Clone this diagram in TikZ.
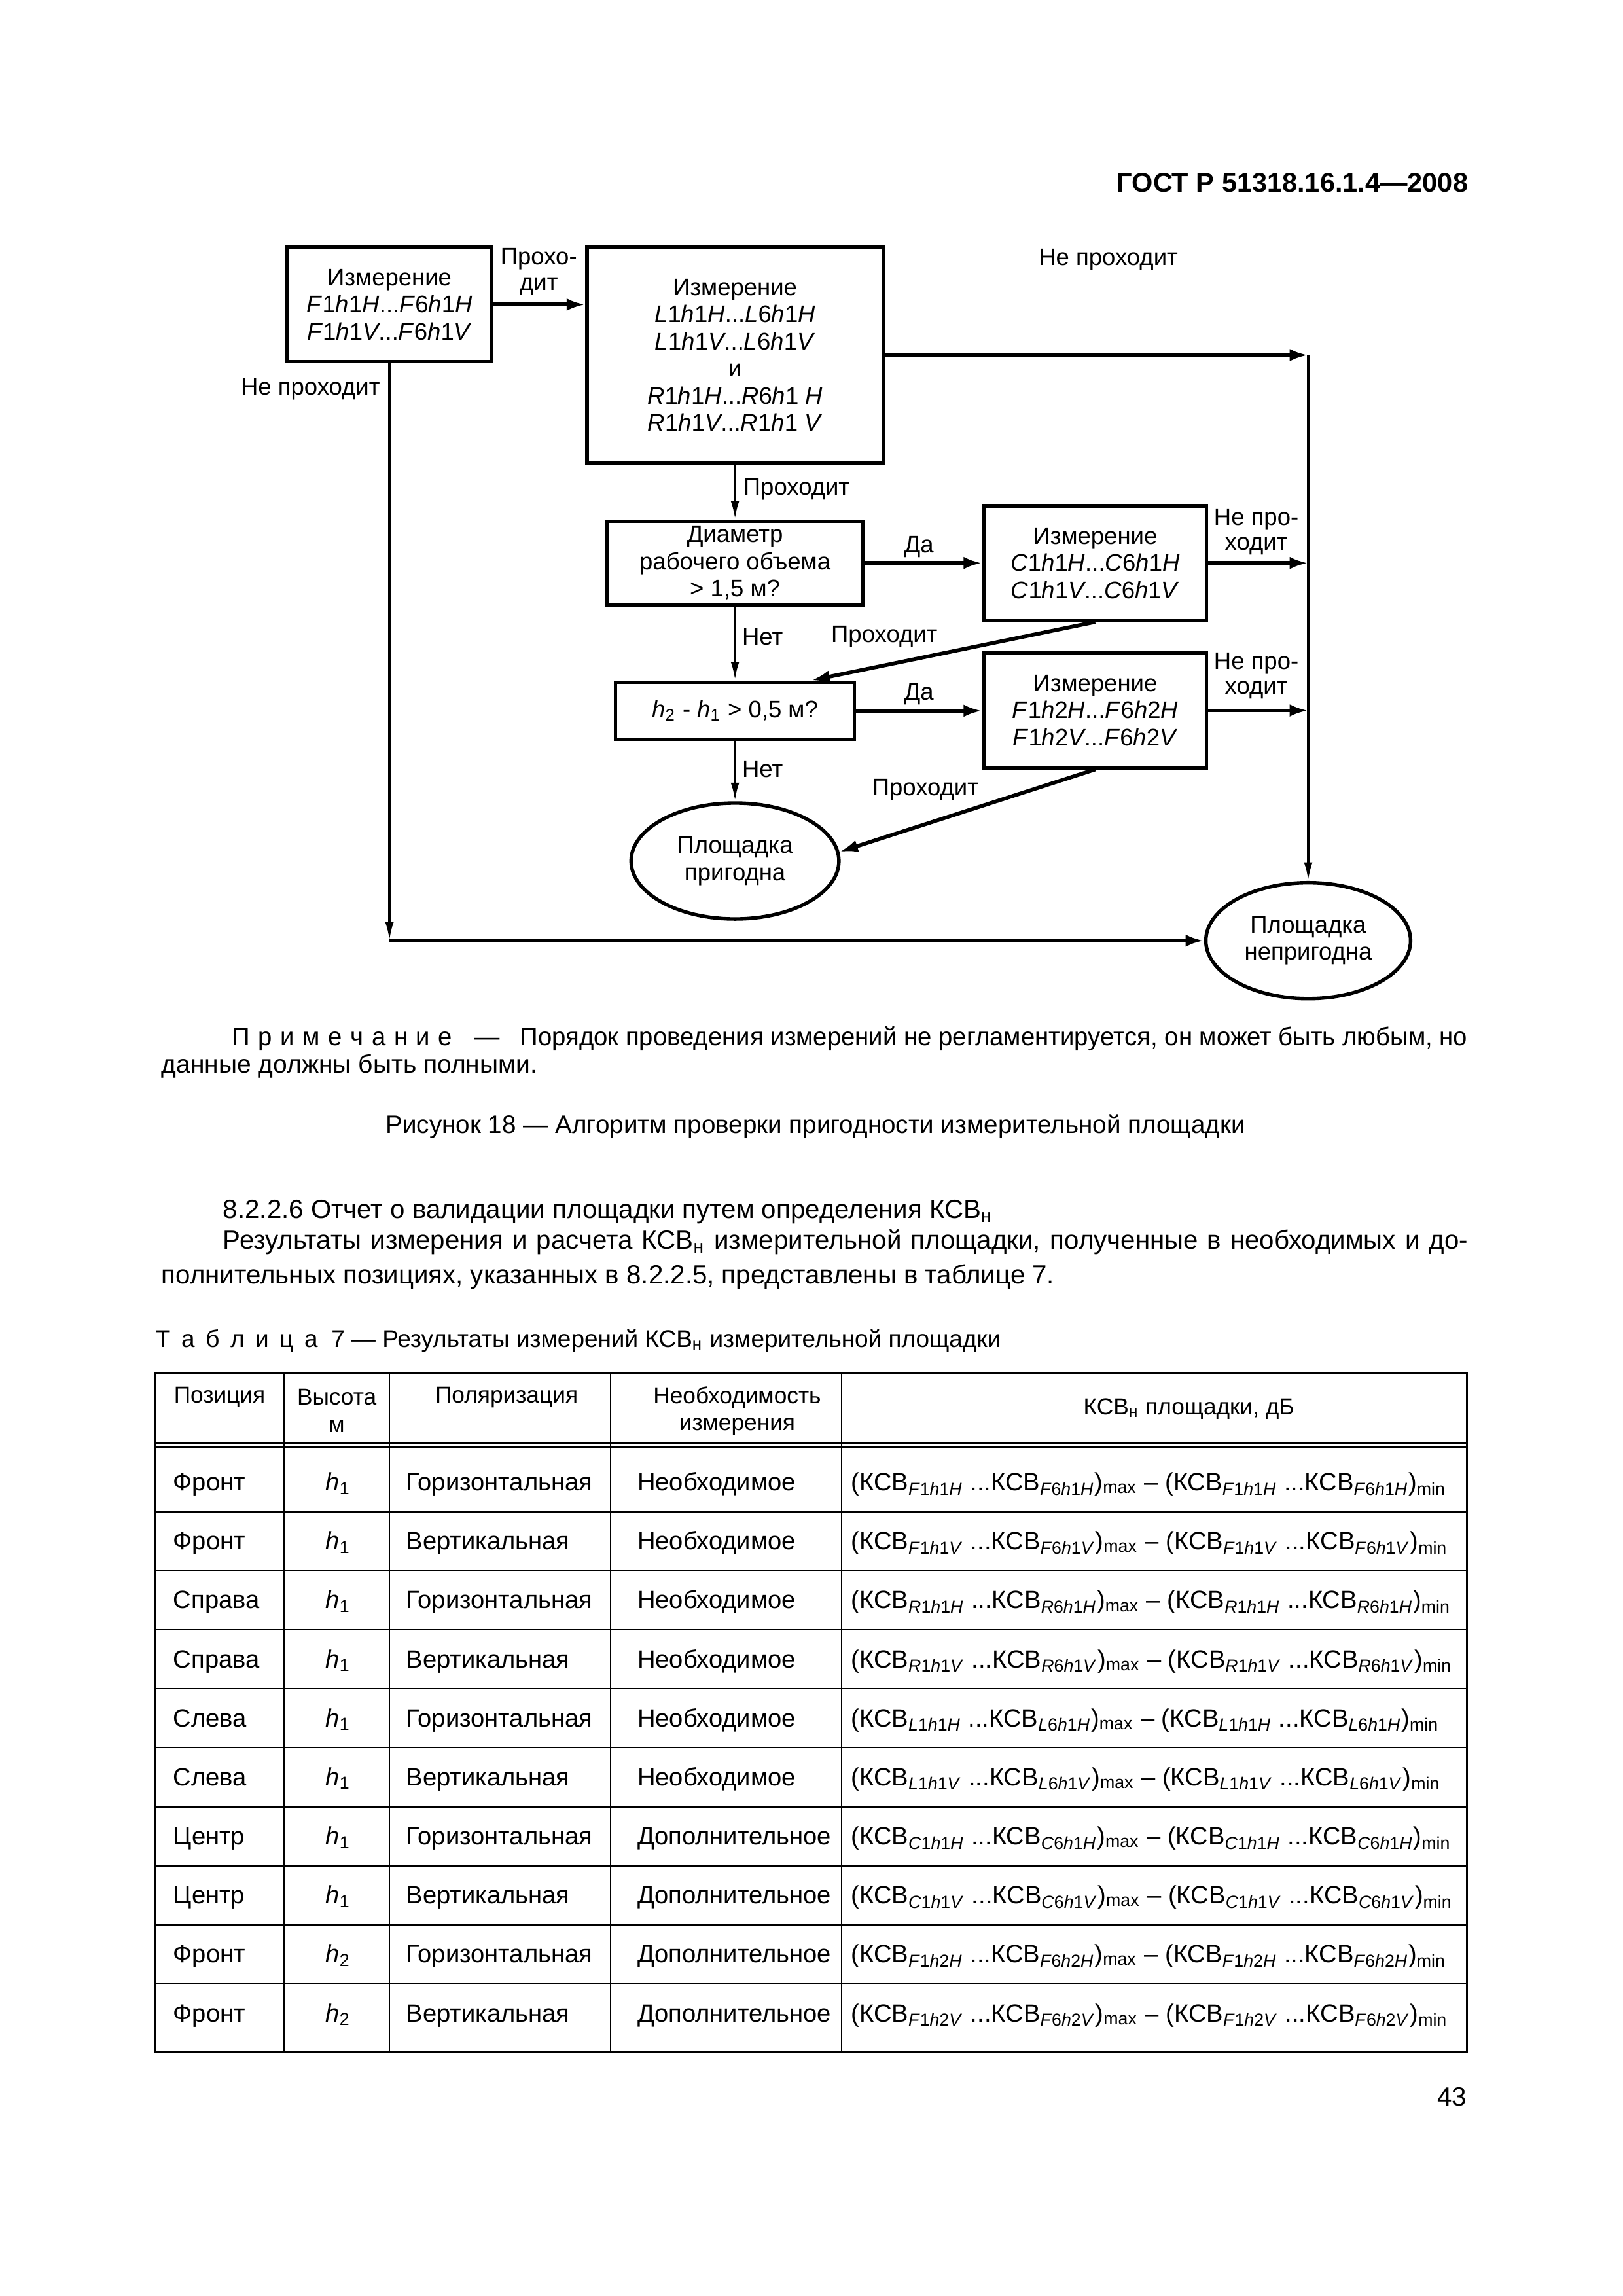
\documentclass[tikz,border=0pt]{standalone}
\usepackage{fontspec}
\setmainfont{Liberation Sans}
\usepackage{tikz}
\usetikzlibrary{shapes.geometric, arrows.meta, positioning, calc}

\newcommand{\flowfont}{\fontsize{8.8}{10}\selectfont}
\newcommand{\tabfont}{\fontsize{9.2}{11}\selectfont}
\newcommand{\thfont}{\fontsize{8.5}{10}\selectfont}
\newcommand{\txtfont}{\fontsize{9.4}{11}\selectfont}
\newcommand{\parfont}{\fontsize{9.7}{12}\selectfont}
\newcommand{\ls}{\kern.33em}
\newcommand{\lsw}{\kern.45em}
\newcommand{\msr}[4]{\textit{#1}#2\textit{h}#3\textit{#4}}
\newcommand{\ksv}[1]{КСВ\textsubscript{#1}}
\newcommand{\krow}[3]{(\ksv{\msr{#1}{1}{#2}{#3}} ...\ksv{\msr{#1}{6}{#2}{#3}})\textsubscript{max} – (\ksv{\msr{#1}{1}{#2}{#3}} ...\ksv{\msr{#1}{6}{#2}{#3}})\textsubscript{min}}

\begin{document}
\begin{tikzpicture}[x=0.1895mm, y=-0.1895mm,
  box/.style={draw, line width=1.3pt, align=center, inner sep=0pt, font=\flowfont},
  oval/.style={ellipse, draw, line width=1.3pt, align=center, inner sep=0pt, font=\flowfont},
  lbl/.style={align=center, inner sep=0pt, font=\fontsize{8.8}{9.3}\selectfont},
  thk/.style={line width=1.4pt, -{Latex[length=2.4mm, width=1.6mm]}},
  thn/.style={line width=0.9pt, -{Latex[length=2.4mm, width=1.1mm]}},
  txt/.style={inner sep=0pt, font=\txtfont},
  tcell/.style={inner sep=0pt, font=\tabfont},
  thd/.style={inner sep=0pt, align=center, font=\thfont},
  tline/.style={line width=0.6pt},
]
% Page
\fill[white] (0,0) rectangle (1108.2,1568);
\useasboundingbox (0,0) rectangle (1108.2,1568);

% Running head and page number
\node[anchor=base east, inner sep=0pt, font=\fontsize{10}{12}\selectfont\bfseries] (gost) at (1003,131) {ГОСТ Р 51318.16.1.4—2008};
\node[anchor=base east, inner sep=0pt, font=\parfont] (pnum) at (1002,1438) {43};

% Measurement boxes
\node[box, minimum width=26.5mm, minimum height=14.8mm] (mF) at (266,208)
  {Измерение\\\msr{F}{1}{1}{H}...\msr{F}{6}{1}{H}\\\msr{F}{1}{1}{V}...\msr{F}{6}{1}{V}};
\node[box, minimum width=38.3mm, minimum height=27.9mm] (mLR) at (502,242.5)
  {Измерение\\\msr{L}{1}{1}{H}...\msr{L}{6}{1}{H}\\\msr{L}{1}{1}{V}...\msr{L}{6}{1}{V}\\и\\
   \msr{R}{1}{1}{H}...\textit{R}6\textit{h}1 \textit{H}\\\msr{R}{1}{1}{V}...\textit{R}1\textit{h}1 \textit{V}};
\node[box, minimum width=33.2mm, minimum height=10.8mm] (dm) at (502,384.5)
  {Диаметр\\рабочего объема\\> 1,5 м?};
\node[box, minimum width=28.8mm, minimum height=14.8mm] (cb) at (748,384.5)
  {Измерение\\\msr{C}{1}{1}{H}...\msr{C}{6}{1}{H}\\\msr{C}{1}{1}{V}...\msr{C}{6}{1}{V}};
\node[box, minimum width=30.9mm, minimum height=7.4mm] (hb) at (502,485.4)
  {\textit{h}\textsubscript{2} - \textit{h}\textsubscript{1} > 0,5 м?};
\node[box, minimum width=28.8mm, minimum height=14.8mm] (fb) at (748,485.2)
  {Измерение\\\msr{F}{1}{2}{H}...\msr{F}{6}{2}{H}\\\msr{F}{1}{2}{V}...\msr{F}{6}{2}{V}};

% Results
\node[oval, minimum width=26.9mm, minimum height=15mm] (pg) at (502,588) {Площадка\\пригодна};
\node[oval, minimum width=26.5mm, minimum height=15mm] (ng) at (893.5,642.4) {Площадка\\непригодна};

\coordinate (bus) at (mLR.east -| ng.north);
\coordinate (lft) at (mF.south |- ng.west);

% Connectors
\draw[thk] (mF.east) -- (mF.east -| mLR.west);
\draw[thk] (mLR.east) -- (bus);
\draw[thn] (bus) -- (ng.north);
\draw[thn] (mF.south) -- (lft);
\draw[thk] (lft) -- (ng.west);
\draw[thn] (mLR.south) -- (dm.north);
\draw[thk] (dm.east) -- (dm.east -| cb.west);
\draw[thk] (cb.east) -- (cb.east -| bus);
\draw[thk] (cb.south) -- ($(hb.north)!0.63!(hb.north east)$);
\draw[thn] (dm.south) -- (hb.north);
\draw[thk] (hb.east) -- (hb.east -| fb.west);
\draw[thk] (fb.east) -- (fb.east -| bus);
\draw[thk] (fb.south) -- (pg.5);
\draw[thn] (hb.south) -- (pg.north);

% Connector labels
\node[lbl] (lpF) at (368,185.5) {Прохо-\\дит};
\node[lbl] (lnLR) at (757,177.3) {Не проходит};
\node[lbl] (lnF) at (212,266) {Не проходит};
\node[lbl] (lpLR) at (544,334) {Проходит};
\node[lbl] (ldm) at (627.6,373.3) {Да};
\node[lbl] (lnC) at (858,363.2) {Не про-\\ходит};
\node[lbl] (lndm) at (520.8,435) {Нет};
\node[lbl] (lpC) at (604,435) {Проходит};
\node[lbl] (lhb) at (627.6,474) {Да};
\node[lbl] (lnFb) at (858,461.5) {Не про-\\ходит};
\node[lbl] (lnhb) at (520.8,525.3) {Нет};
\node[lbl] (lpFb) at (632,539.4) {Проходит};

% Note and caption
\node[txt, anchor=base west] (note1) at (158,714)
  {\resizebox{159.9mm}{\height}{П\ls р\ls и\ls м\ls е\ls ч\ls а\ls н\ls и\ls е\hspace{0.9em}—\hspace{0.8em}Порядок проведения измерений не регламентируется, он может быть любым, но}};
\node[txt, anchor=base west] (note2) at (110,733) {данные должны быть полными.};
\node[txt, anchor=base, font=\fontsize{9.3}{11}\selectfont] (capt) at (557,774) {Рисунок 18 — Алгоритм проверки пригодности измерительной площадки};

% Text
\node[inner sep=0pt, font=\parfont, anchor=base west] (par1) at (152,832)
  {8.2.2.6 Отчет о валидации площадки путем определения КСВ\textsubscript{н}};
\node[inner sep=0pt, font=\parfont, anchor=base west] (par2) at (152,853)
  {\makebox[161.1mm][s]{Результаты измерения и расчета КСВ\textsubscript{н} измерительной площадки, полученные в необходимых и до-}};
\node[inner sep=0pt, font=\parfont, anchor=base west] (par3) at (110,876.7)
  {полнительных позициях, указанных в 8.2.2.5, представлены в таблице 7.};
\node[txt, anchor=base west, font=\fontsize{8.9}{11}\selectfont] (ttl) at (106,920)
  {Т\lsw а\lsw б\lsw л\lsw и\lsw ц\lsw а\ \ 7 — Результаты измерений КСВ\textsubscript{н} измерительной площадки};

% Table grid
\draw[line width=0.8pt] (106,937.6) rectangle (1002,1401);
\foreach \cx in {194,266,417,575}
  \draw[line width=0.5pt] (\cx,937.6) -- (\cx,1401);
\draw[tline] (106,985.3) -- (1002,985.3);
\draw[tline] (106,988) -- (1002,988);
\foreach \j in {0,...,8}
  \draw[tline] (106,{1032.3+40.3*\j}) -- (1002,{1032.3+40.3*\j});

% Table head
\node[thd] (th1) at (150,954.4) {Позиция};
\node[thd] (th2) at (230,963.5) {Высота\\м};
\node[thd] (th3) at (346,954.4) {Поляризация};
\node[thd] (th4) at (503.5,963.5) {Необходимость\\измерения};
\node[thd] (th5) at (812,962) {КСВ\textsubscript{н} площадки, дБ};

% Table rows
\foreach \pos/\hh/\pol/\need/\A/\P [count=\i] in {
  Фронт/1/Горизонтальная/Необходимое/F/H,
  Фронт/1/Вертикальная/Необходимое/F/V,
  Справа/1/Горизонтальная/Необходимое/R/H,
  Справа/1/Вертикальная/Необходимое/R/V,
  Слева/1/Горизонтальная/Необходимое/L/H,
  Слева/1/Вертикальная/Необходимое/L/V,
  Центр/1/Горизонтальная/Дополнительное/C/H,
  Центр/1/Вертикальная/Дополнительное/C/V,
  Фронт/2/Горизонтальная/Дополнительное/F/H,
  Фронт/2/Вертикальная/Дополнительное/F/V}{
  \pgfmathsetmacro{\ty}{1018+40.3*(\i-1)}
  \node[tcell, anchor=base west] (p\i) at (118,\ty) {\pos};
  \node[tcell, anchor=base] (h\i) at (231,\ty) {\textit{h}\textsubscript{\hh}};
  \node[tcell, anchor=base west] (q\i) at (277,\ty) {\pol};
  \node[tcell, anchor=base west] (n\i) at (435,\ty) {\need};
  \node[tcell, anchor=base west] (k\i) at (581,\ty) {\krow{\A}{\hh}{\P}};
}
\end{tikzpicture}
\end{document}
